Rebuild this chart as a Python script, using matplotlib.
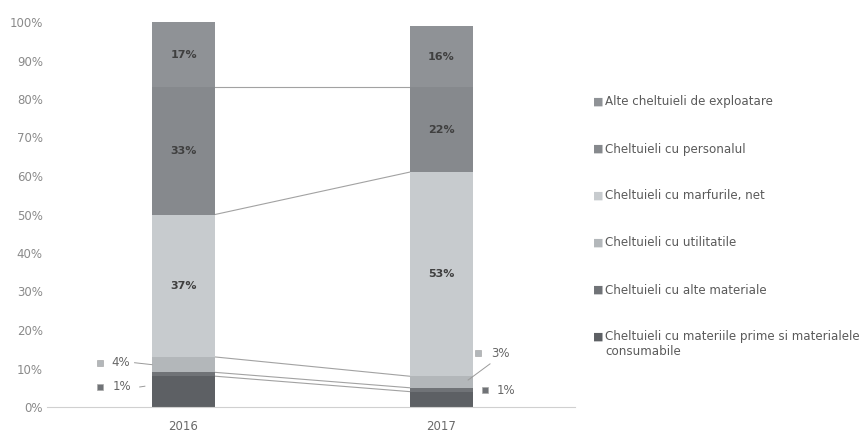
import numpy as np
import matplotlib
matplotlib.use('Agg')
from matplotlib import pyplot as plt

# stacked from bottom to top
years = ['2016', '2017']
series = [
    'Cheltuieli cu materiile prime si materialele\nconsumabile',
    'Cheltuieli cu alte materiale',
    'Cheltuieli cu utilitatile',
    'Cheltuieli cu marfurile, net',
    'Cheltuieli cu personalul',
    'Alte cheltuieli de exploatare',
]
values = [
    [8, 4],    # materii prime
    [1, 1],    # alte materiale
    [4, 3],    # utilitati
    [37, 53],  # marfuri
    [33, 22],  # personal
    [17, 16],  # alte cheltuieli
]
colors = ['#5d6064', '#707377', '#b3b7ba', '#c7cbce', '#86898d', '#8f9296']

# which segments get a label inside the bar
inside = [3, 4, 5]

W, H = 866, 437
fig = plt.figure(figsize=(W / 100, H / 100), dpi=100)
ax = fig.add_axes([47 / W, 1 - 407 / H, 528 / W, 385 / H])

x = np.arange(len(years))
width = 0.245
bottoms = np.zeros(len(years))
tops = []
for i, vals in enumerate(values):
    vals = np.array(vals, dtype=float)
    ax.bar(x, vals, width, bottom=bottoms, color=colors[i], edgecolor='none', zorder=2)
    if i in inside:
        for j in range(len(years)):
            ax.text(x[j], bottoms[j] + vals[j] / 2, '{:d}%'.format(int(vals[j])),
                    ha='center', va='center', fontsize=8, color='#3f3f3f',
                    fontweight='bold', zorder=3)
    bottoms = bottoms + vals
    tops.append(bottoms.copy())

# series lines between the two bars (not on the very top)
for t in tops[:-1]:
    ax.plot([x[0] + width / 2, x[1] - width / 2], [t[0], t[1]],
            color='#a2a2a2', lw=0.8, zorder=1)

def seg_mid(idx, col):
    return sum(v[col] for v in values[:idx]) + values[idx][col] / 2

def callout(xs, xt, yt, idx, col, leader=None):
    ax.plot([xs], [yt], marker='s', ms=4.5, color=colors[idx], mec='#aaaaaa',
            mew=0.5, clip_on=False)
    ax.text(xt, yt, '{:d}%'.format(int(values[idx][col])), ha='left', va='center',
            fontsize=8.5, color='#666666')
    if leader is not None:
        ax.plot(leader[0], leader[1], color='#9a9a9a', lw=0.7)

# 2016
callout(-0.325, -0.28, 11.5, 2, 0, ([-0.19, -0.1225], [11.5, seg_mid(2, 0)]))
callout(-0.325, -0.275, 5.2, 1, 0, ([-0.17, -0.15], [5.2, 5.4]))
# 2017
callout(1.144, 1.195, 14, 2, 1, ([1.19, 1.105], [11.2, 7.0]))
callout(1.171, 1.215, 4.4, 1, 1)

ax.set_xlim(-0.53, 1.52)
ax.set_ylim(0, 100)
ax.set_yticks(np.arange(0, 101, 10))
ax.set_yticklabels(['{}%'.format(v) for v in range(0, 101, 10)])
ax.set_xticks(x)
ax.set_xticklabels(years)
ax.tick_params(axis='y', length=0, labelsize=8.5, labelcolor='#8a8a8a', pad=3)
ax.tick_params(axis='x', length=0, labelsize=8.5, labelcolor='#6a6a6a', pad=9)
for s in ['top', 'right', 'left']:
    ax.spines[s].set_visible(False)
ax.spines['bottom'].set_color('#d0d0d0')
ax.spines['bottom'].set_linewidth(0.8)

# legend on the right, top entry is top segment
for k, idx in enumerate(reversed(range(len(series)))):
    ypx = 102 + k * 47
    fig.text(593 / W, 1 - ypx / H, '\u25a0', color=colors[idx], fontsize=8,
             va='center', ha='left')
    if '\n' in series[idx]:
        fig.text(605 / W, 1 - (ypx - 7) / H, series[idx], color='#5a5a5a',
                 fontsize=8.6, va='top', ha='left', linespacing=1.2)
    else:
        fig.text(605 / W, 1 - ypx / H, series[idx], color='#5a5a5a',
                 fontsize=8.6, va='center', ha='left')

fig.savefig('out.png', dpi=100)
